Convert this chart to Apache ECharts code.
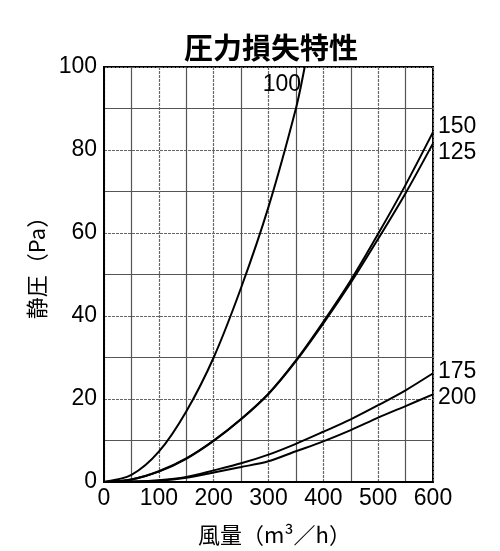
<!DOCTYPE html>
<html>
<head>
<meta charset="utf-8">
<script src="https://cdn.jsdelivr.net/npm/echarts@6/dist/echarts.min.js"></script>
<style>
html,body{margin:0;padding:0;background:#fff;}
#main{width:500px;height:551px;}
</style>
</head>
<body>
<div id="main"></div>
<script>
// 風量 (m3/h)
var xs = [0, 50, 100, 150, 200, 250, 300, 350, 400, 450, 500, 550, 600];
var xs100 = [0, 50, 100, 150, 200, 250, 300, 350, 366];
// 静圧 (Pa)
var p100 = [0, 1.7, 7.3, 17, 30, 46.8, 66.3, 90, 100];
var p125 = [0, 0.6, 2.5, 5.6, 9.9, 15.1, 21.2, 29.1, 38.2, 48, 58.6, 69.6, 81.6];
var p150 = [0, 0.6, 2.6, 5.7, 10, 15.2, 21.3, 29.3, 38.6, 48.6, 59.8, 71.6, 84.3];
var p175 = [0, 0.1, 0.4, 1.2, 2.8, 4.5, 6.6, 9.2, 12.1, 15.1, 18.5, 22.1, 26.2];
var p200 = [0, 0.1, 0.3, 1.0, 2.3, 3.6, 5.0, 7.4, 9.8, 12.5, 15.5, 18.3, 21.1];

function pairs(x, y) {
	var out = [];
	for (var i = 0; i < y.length; i++) {
		out.push([x[i], y[i]]);
	}
	return out;
}

var numFont = 'Liberation Sans';
var jpFont = 'Noto Sans CJK JP';

function mkSeries(name, x, y, offset) {
	return {
		name : name,
		type : 'line',
		smooth : 0.3,
		symbol : 'none',
		clip : true,
		data : pairs(x, y),
		lineStyle : {
			color : '#000',
			width : 2
		},
		endLabel : {
			show : true,
			formatter : name,
			offset : offset,
			fontFamily : numFont,
			fontSize : 23,
			color : '#000'
		}
	};
}

var myChart = echarts.init(document.getElementById('main'));
myChart.setOption({
	animation : false,
	backgroundColor : '#fff',
	title : {
		text : '圧力損失特性',
		left : 179,
		top : 28,
		textStyle : {
			fontFamily : jpFont,
			fontSize : 29,
			fontWeight : 'bold',
			color : '#000'
		}
	},
	grid : {
		left : 104,
		right : 67,
		top : 67,
		bottom : 67,
		show : true,
		borderColor : '#000',
		borderWidth : 2
	},
	xAxis : {
		type : 'value',
		min : 0,
		max : 600,
		interval : 100,
		name : '風量（m³／h）',
		nameLocation : 'middle',
		nameGap : 42,
		nameTextStyle : {
			fontFamily : jpFont,
			fontSize : 22,
			color : '#000',
			padding : [0, 0, 0, 12]
		},
		axisLine : { lineStyle : { color : '#000', width : 2 } },
		axisTick : { show : false },
		axisLabel : {
			margin : 5,
			fontFamily : numFont,
			fontSize : 23,
			color : '#000'
		},
		splitLine : { lineStyle : { color : '#666', width : 1.2, type : [3, 1] } },
		minorTick : { show : false, splitNumber : 2 },
		minorSplitLine : { show : true, lineStyle : { color : '#555', width : 1.2 } }
	},
	yAxis : {
		type : 'value',
		min : 0,
		max : 100,
		interval : 20,
		name : '静圧（Pa）',
		nameLocation : 'middle',
		nameGap : 44,
		nameTextStyle : {
			fontFamily : jpFont,
			fontSize : 22,
			color : '#000',
			padding : [0, 0, 0, 24]
		},
		axisLine : { lineStyle : { color : '#000', width : 2 } },
		axisTick : { show : false },
		axisLabel : {
			margin : 7,
			fontFamily : numFont,
			fontSize : 23,
			color : '#000'
		},
		splitLine : { lineStyle : { color : '#666', width : 1.2, type : [3, 1] } },
		minorTick : { show : false, splitNumber : 2 },
		minorSplitLine : { show : true, lineStyle : { color : '#555', width : 1.2 } }
	},
	series : [
		mkSeries('100', xs100, p100, [-50, 18]),
		mkSeries('150', xs, p150, [-3, -5]),
		mkSeries('125', xs, p125, [-3, 9]),
		mkSeries('175', xs, p175, [-3, -2]),
		mkSeries('200', xs, p200, [-3, 3])
	]
});
</script>
</body>
</html>
